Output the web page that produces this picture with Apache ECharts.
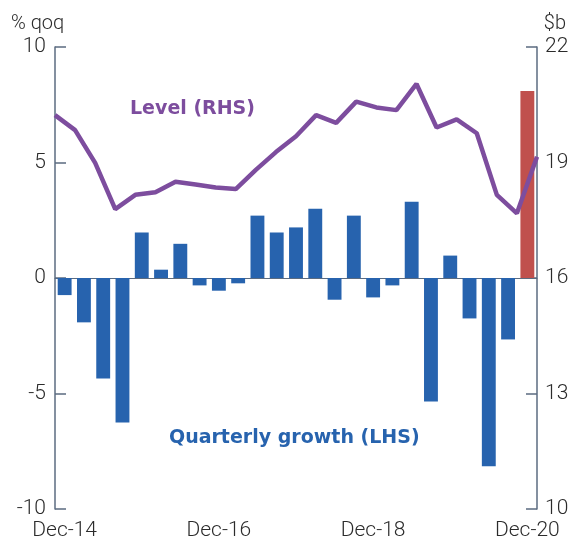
<!DOCTYPE html>
<html>
<head>
	<meta charset="utf-8">
	<title>ECharts</title>
	<script src="https://cdn.jsdelivr.net/npm/echarts@6/dist/echarts.min.js"></script>
	<style type="text/css">
		html, body { height: 100%; margin: 0; background: #fff; }
	</style>
</head>
<body>
	<div id="main" style="width: 569px;height:539px;"></div>
	<script type="text/javascript">
	// quarters Dec-14 .. Dec-20
	var quarters = ['Dec-14','Mar-15','Jun-15','Sep-15','Dec-15','Mar-16','Jun-16','Sep-16',
		'Dec-16','Mar-17','Jun-17','Sep-17','Dec-17','Mar-18','Jun-18','Sep-18',
		'Dec-18','Mar-19','Jun-19','Sep-19','Dec-19','Mar-20','Jun-20','Sep-20','Dec-20'];
	// quarterly growth, % qoq (LHS)
	var growth = [-0.74, -1.92, -4.35, -6.25, 1.97, 0.36, 1.48, -0.32, -0.55, -0.23,
		2.7, 1.97, 2.19, 3.0, -0.94, 2.7, -0.84, -0.32, 3.3, -5.35,
		0.97, -1.75, -8.15, -2.66, 8.1];
	// level, $b (RHS)
	var level = [20.23, 19.84, 18.99, 17.79, 18.16, 18.23, 18.5, 18.43, 18.35, 18.31,
		18.81, 19.27, 19.68, 20.23, 20.03, 20.58, 20.43, 20.36, 21.04, 19.91,
		20.12, 19.76, 18.16, 17.68, 19.15];
	var leftTicks = [-10, 10, 5];   // min, max, interval
	var rightTicks = [10, 22, 3];

	var dom = document.getElementById("main");
	var myChart = echarts.init(dom);
	var axisColor = '#5b6b80';
	var font = 'Roboto';

	var option = {
		animation: false,
		grid: { left: 55, right: 32, top: 47, bottom: 30, outerBoundsMode: 'none', containLabel: false },
		xAxis: [{
			type: 'category',
			data: quarters,
			position: 'bottom',
			axisLine: { show: false, onZero: false },
			axisTick: { show: false },
			axisLabel: {
				interval: 7,
				margin: 11,
				color: '#2b2b2b', fontSize: 21, fontFamily: font, fontWeight: 300
			}
		}, {
			type: 'category',
			data: quarters,
			boundaryGap: false,
			axisLine: { show: true, onZero: true, onZeroAxisIndex: 0, lineStyle: { color: axisColor, width: 1 } },
			axisTick: { show: false },
			axisLabel: { show: false }
		}],
		yAxis: [{
			type: 'value',
			min: leftTicks[0], max: leftTicks[1], interval: leftTicks[2],
			axisLine: { show: true, lineStyle: { color: axisColor, width: 1.5 } },
			axisTick: { show: true, inside: true, length: 11, lineStyle: { color: axisColor, width: 1.5 } },
			axisLabel: { margin: 9, color: '#2b2b2b', fontSize: 21, fontFamily: font, fontWeight: 300 },
			splitLine: { show: false }
		}, {
			type: 'value',
			position: 'right',
			min: rightTicks[0], max: rightTicks[1], interval: rightTicks[2],
			axisLine: { show: true, lineStyle: { color: axisColor, width: 1.5 } },
			axisTick: { show: true, inside: true, length: 11, lineStyle: { color: axisColor, width: 1.5 } },
			axisLabel: { margin: 8, color: '#2b2b2b', fontSize: 21, fontFamily: font, fontWeight: 300 },
			splitLine: { show: false }
		}],
		graphic: [
			{ type: 'text', left: 11, top: 14, style: { text: '% qoq', fill: '#2b2b2b', fontSize: 20, fontFamily: font, fontWeight: 300 } },
			{ type: 'text', right: 3, top: 14, style: { text: '$b', fill: '#2b2b2b', fontSize: 20, fontFamily: font, fontWeight: 300 } },
			{ type: 'text', left: 130, top: 100, style: { text: 'Level (RHS)', fill: '#7d4d9e', fontSize: 19, fontWeight: 'bold', fontFamily: 'DejaVu Sans' } },
			{ type: 'text', left: 169, top: 429, style: { text: 'Quarterly growth (LHS)', fill: '#2763ae', fontSize: 19, fontWeight: 'bold', fontFamily: 'DejaVu Sans' } }
		],
		series: [{
			type: 'bar',
			xAxisIndex: 0,
			yAxisIndex: 0,
			barCategoryGap: '28%',
			data: growth.map(function (v, i) {
				return i === growth.length - 1 ? { value: v, itemStyle: { color: '#c0504d' } } : v;
			}),
			itemStyle: { color: '#2763ae' }
		}, {
			type: 'line',
			xAxisIndex: 1,
			yAxisIndex: 1,
			data: level,
			symbol: 'none',
			lineStyle: { width: 4.5, color: '#7d4d9e' },
			z: 5
		}]
	};
	myChart.setOption(option);
	</script>
</body>
</html>
